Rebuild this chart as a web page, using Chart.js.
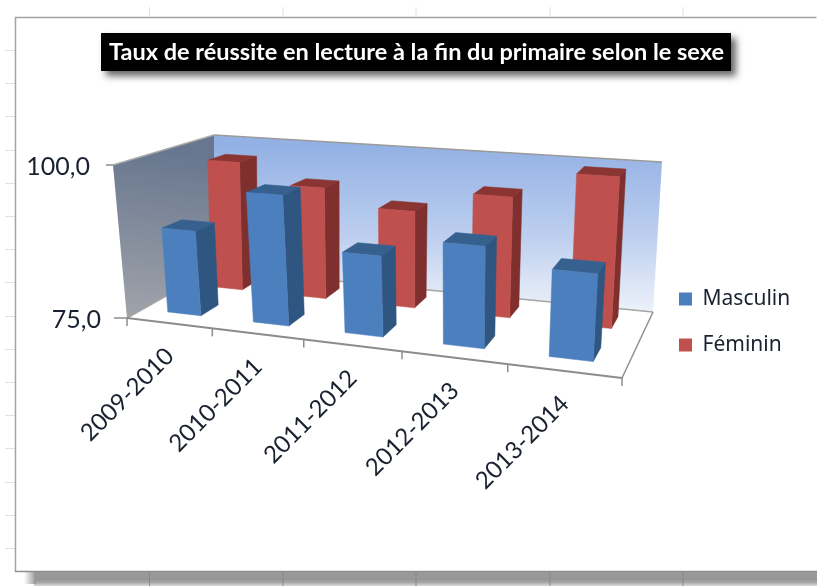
<!DOCTYPE html>
<html lang="fr">
<head>
<meta charset="utf-8">
<style>html,body{margin:0;padding:0;background:#fff}canvas{display:block}</style>
<script src="https://cdn.jsdelivr.net/npm/chart.js@4/dist/chart.umd.js"></script>
</head>
<body>
<canvas id="c" width="817" height="586"></canvas>
<script>
const titleText = "Taux de réussite en lecture à la fin du primaire selon le sexe";
const categories = ["2009-2010", "2010-2011", "2011-2012", "2012-2013", "2013-2014"];
const masculin = [88.9, 96.0, 87.7, 90.7, 88.1];
const feminin = [97.4, 94.0, 91.2, 94.8, 99.3];
const axisMin = 75, axisMax = 100, axisStep = 25;

// 3-D box corners on screen (style only): floor and ceiling quads as [front-left, front-right, back-right, back-left]
const FLOOR = [[127,318],[622,378],[653,312],[214,269]];
const CEIL  = [[113,165],[634,205],[662,162],[214,135]];
const ROW_DEPTH = [[0.165,0.365],[0.665,0.865]];
const SHADE = [{side:"#2f5581",top:"#36618f"},{side:"#7f2f2d",top:"#8b3533"}];

function homography(q){
  const [x0,y0]=q[0],[x1,y1]=q[1],[x2,y2]=q[2],[x3,y3]=q[3];
  const dx1=x1-x2,dx2=x3-x2,sx=x0-x1+x2-x3,dy1=y1-y2,dy2=y3-y2,sy=y0-y1+y2-y3;
  const det=dx1*dy2-dx2*dy1,g=(sx*dy2-dx2*sy)/det,h=(dx1*sy-sx*dy1)/det;
  const a=x1-x0+g*x1,b=x3-x0+h*x3,d=y1-y0+g*y1,e=y3-y0+h*y3;
  return (u,v)=>{const w=g*u+h*v+1;return [(a*u+b*v+x0)/w,(d*u+e*v+y0)/w];};
}
const hFloor=homography(FLOOR), hCeil=homography(CEIL);
function P(u,d,h){const f=hFloor(u,d),c=hCeil(u,d);return [f[0]+(c[0]-f[0])*h,f[1]+(c[1]-f[1])*h];}
function poly(ctx,pts,fill,stroke,lw){
  ctx.beginPath();pts.forEach((p,i)=>i?ctx.lineTo(p[0],p[1]):ctx.moveTo(p[0],p[1]));ctx.closePath();
  if(fill){ctx.fillStyle=fill;ctx.fill();}
  if(stroke){ctx.strokeStyle=stroke;ctx.lineWidth=lw||1;ctx.stroke();}
}
function line(ctx,a,b,color,lw){ctx.beginPath();ctx.moveTo(a[0],a[1]);ctx.lineTo(b[0],b[1]);ctx.strokeStyle=color;ctx.lineWidth=lw;ctx.stroke();}

const box3d={
  id:"box3d",
  afterLayout(chart){
    const l=chart.legend;
    const h=l.bottom-l.top, w=l.right-l.left;
    l.left=679-l.options.labels.padding; l.right=l.left+w;
    l.top=322-h/2; l.bottom=l.top+h;
  },
  beforeDraw(chart){
    const ctx=chart.ctx,W=chart.width,H=chart.height;
    ctx.save();
    ctx.fillStyle="#fff";ctx.fillRect(0,0,W,H);
    // worksheet grid
    ctx.strokeStyle="#e2e2e2";ctx.lineWidth=1;
    [149.5,283,416,550,683].forEach(x=>{ctx.beginPath();ctx.moveTo(x,7);ctx.lineTo(x,17);ctx.stroke();});
    for(let y=50;y<560;y+=33.2){ctx.beginPath();ctx.moveTo(5,Math.round(y)+.5);ctx.lineTo(15,Math.round(y)+.5);ctx.stroke();}
    // frame shadow
    const g=ctx.createLinearGradient(0,572,0,586);
    g.addColorStop(0,"#9a9a9a");g.addColorStop(.55,"#979797");g.addColorStop(.75,"#a8a8a8");g.addColorStop(1,"#dcdcdc");
    ctx.fillStyle=g;ctx.fillRect(34,572,W-34,14);
    const g2=ctx.createLinearGradient(24,0,36,0);
    g2.addColorStop(0,"rgba(154,154,154,0)");g2.addColorStop(1,"rgba(154,154,154,1)");
    ctx.fillStyle=g2;ctx.fillRect(24,572,12,12);
    ctx.strokeStyle="#868686";
    [149.5,283,416,550,683].forEach(x=>{ctx.beginPath();ctx.moveTo(x,572);ctx.lineTo(x,586);ctx.stroke();});
    // frame
    ctx.fillStyle="#fff";ctx.fillRect(16,18,800,553);
    ctx.strokeStyle="#a3a3a3";ctx.lineWidth=1.5;
    ctx.beginPath();ctx.moveTo(15.5,572);ctx.lineTo(15.5,17.5);ctx.lineTo(816.5,17.5);ctx.stroke();
    ctx.strokeStyle="#8f8f8f";ctx.beginPath();ctx.moveTo(15,571.5);ctx.lineTo(817,571.5);ctx.stroke();
    // title plate
    ctx.save();
    ctx.shadowColor="rgba(0,0,0,.6)";ctx.shadowBlur=7;ctx.shadowOffsetX=5;ctx.shadowOffsetY=5;
    ctx.fillStyle="#000";ctx.fillRect(101,33,630,38);
    ctx.restore();
    ctx.restore();
    // relocate axis labels onto the projected axes
    const xs=chart.scales.x, ys=chart.scales.y;
    xs.getLabelItems().forEach((it,i)=>{
      const p=P((xs.getPixelForTick(i)-xs.left)/(xs.right-xs.left),0,0);
      it.textOffset=0;
      it.options.textAlign="right";it.options.textBaseline="middle";
      it.options.rotation=-Math.PI/4;
      it.options.translation=[p[0]+1,p[1]+29];
    });
    ys.getLabelItems().forEach((it,i)=>{
      const h=(ys.bottom-ys.getPixelForTick(i))/(ys.bottom-ys.top);
      const p=P(0,0,h);
      it.textOffset=0;
      it.options.textAlign="right";it.options.textBaseline="middle";
      it.options.translation=[p[0]-26+3*h,p[1]+2];
    });
  },
  beforeDatasetsDraw(chart){
    const ctx=chart.ctx,xs=chart.scales.x;
    ctx.save();
    // floor
    poly(ctx,[P(0,0,0),P(1,0,0),P(1,1,0),P(0,1,0)],"#fff");
    // left wall
    let g=ctx.createLinearGradient(150,150,130,318);
    g.addColorStop(0,"#68778f");g.addColorStop(1,"#a0a3aa");
    poly(ctx,[P(0,0,0),P(0,1,0),P(0,1,1),P(0,0,1)],g);
    // back wall
    g=ctx.createLinearGradient(0,145,0,312);
    g.addColorStop(0,"#93b1e4");g.addColorStop(.55,"#bdcfef");g.addColorStop(1,"#edf2fa");
    poly(ctx,[P(0,1,0),P(1,1,0),P(1,1,1),P(0,1,1)],g);
    // edges
    line(ctx,P(0,0,1),P(0,1,1),"#a8a8a8",1.5);
    line(ctx,P(0,1,1),P(1,1,1),"#9a9a9a",1.5);
    line(ctx,P(0,1,0),P(1,1,0),"#a5a5a5",1.5);
    line(ctx,P(0,0,0),P(0,1,0),"#a5a5a5",1.5);
    line(ctx,P(1,1,0),P(1,0,0),"#8f8f8f",1.5);
    line(ctx,P(0,0,0),P(1,0,0),"#8c8c8c",2);
    // tick marks
    line(ctx,[P(0,0,1)[0]-7,P(0,0,1)[1]],P(0,0,1),"#8c8c8c",1.5);
    line(ctx,[P(0,0,0)[0]-13,P(0,0,0)[1]],P(0,0,0),"#8c8c8c",1.5);
    for(let i=0;i<=categories.length;i++){
      const p=P((xs.getPixelForValue(i-.5)-xs.left)/(xs.right-xs.left),0,0);
      line(ctx,p,[p[0],p[1]+8],"#8c8c8c",1.5);
    }
    ctx.restore();
  },
  beforeDatasetDraw(chart,args){
    const ctx=chart.ctx,xs=chart.scales.x,ys=chart.scales.y,i=args.index;
    const [d0,d1]=ROW_DEPTH[i];
    const sh=SHADE[i];
    const U=x=>(x-xs.left)/(xs.right-xs.left), H=y=>(ys.bottom-y)/(ys.bottom-ys.top);
    ctx.save();ctx.lineJoin="round";
    args.meta.data.forEach(el=>{
      const u0=U(el.x-el.width/2),u1=U(el.x+el.width/2),h0=Math.max(0,H(el.base)),h1=H(el.y);
      poly(ctx,[P(u1,d0,h0),P(u1,d1,h0),P(u1,d1,h1),P(u1,d0,h1)],sh.side,sh.side,.5);
      poly(ctx,[P(u0,d0,h1),P(u1,d0,h1),P(u1,d1,h1),P(u0,d1,h1)],sh.top,sh.top,.5);
      const c=el.options.backgroundColor;
      poly(ctx,[P(u0,d0,h0),P(u1,d0,h0),P(u1,d0,h1),P(u0,d0,h1)],c,c,.5);
    });
    ctx.restore();
    return false;
  }
};

new Chart(document.getElementById("c"),{
  type:"bar",
  plugins:[box3d],
  data:{labels:categories,datasets:[
    {label:"Masculin",data:masculin,backgroundColor:"#4c7fbe",borderWidth:0},
    {label:"Féminin",data:feminin,backgroundColor:"#c0504d",borderWidth:0}
  ]},
  options:{
    responsive:false,animation:false,
    layout:{padding:{left:16,top:0,right:0,bottom:0}},
    datasets:{bar:{grouped:false,categoryPercentage:1,barPercentage:.395}},
    plugins:{
      tooltip:{enabled:false},
      title:{display:true,text:titleText,color:"#fff",font:{family:"Lato",size:23.5,weight:"bold"},padding:{top:38,bottom:64}},
      legend:{display:true,position:"right",labels:{boxWidth:13,boxHeight:13,padding:25,color:"#1a2230",font:{family:"Noto Sans",size:21}}}
    },
    scales:{
      x:{grid:{display:false},border:{display:false},afterFit(s){s.height=200;},
         ticks:{autoSkip:false,mirror:true,maxRotation:0,color:"#1a2230",font:{family:"Lato",size:24}}},
      y:{min:axisMin,max:axisMax,grid:{display:false},border:{display:false},afterFit(s){s.width=97;},
         ticks:{stepSize:axisStep,mirror:true,color:"#1a2230",font:{family:"Lato",size:25},
                callback:v=>v.toFixed(1).replace(".",",")}}
    }
  }
});
</script>
</body>
</html>
